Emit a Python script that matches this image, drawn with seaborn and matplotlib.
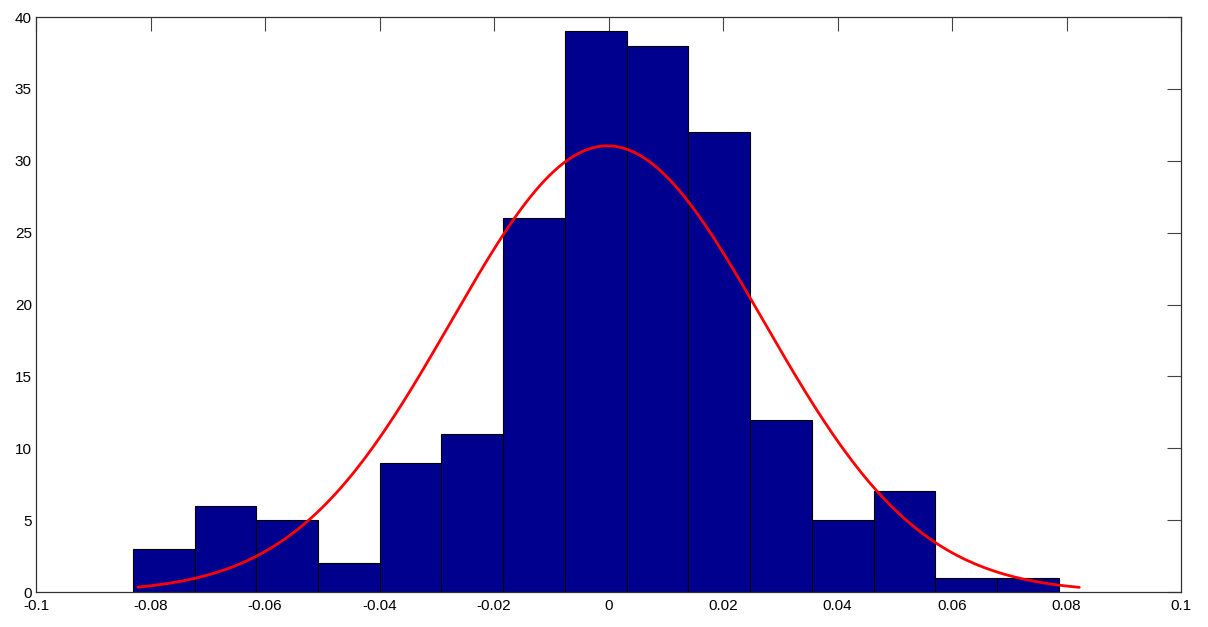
import numpy as np
import pandas as pd
import matplotlib
matplotlib.use("Agg")
import matplotlib.pyplot as plt
import seaborn as sns

# histogram
bin_left = -0.0831
bin_width = 0.010783
counts = [3, 6, 5, 2, 9, 11, 26, 39, 38, 32, 12, 5, 7, 1, 1]

# fitted normal (histfit style)
fit_mu = -0.0002
fit_sigma = 0.0273
fit_range = (-0.0822, 0.0822)

xticks = [-0.1, -0.08, -0.06, -0.04, -0.02, 0, 0.02, 0.04, 0.06, 0.08, 0.1]
xticklabels = ["-0.1", "-0.08", "-0.06", "-0.04", "-0.02", "0", "0.02", "0.04", "0.06", "0.08", "0.1"]
yticks = [0, 5, 10, 15, 20, 25, 30, 35, 40]

sns.set_style("white")
plt.rcParams["font.family"] = ["Liberation Sans", "DejaVu Sans"]

edges = bin_left + bin_width * np.arange(len(counts) + 1)
centers = (edges[:-1] + edges[1:]) / 2
df = pd.DataFrame({"x": centers, "n": counts})

n_total = sum(counts)
xs = np.linspace(fit_range[0], fit_range[1], 200)
ys = n_total * bin_width / (fit_sigma * np.sqrt(2 * np.pi)) * np.exp(-0.5 * ((xs - fit_mu) / fit_sigma) ** 2)
curve = pd.DataFrame({"x": xs, "y": ys})

fig = plt.figure(figsize=(12.08, 6.27), dpi=100)
ax = fig.add_axes([0.0298, 0.0558, 0.948, 0.917])

sns.histplot(data=df, x="x", weights="n", bins=edges.tolist(), ax=ax,
             color=(0, 0, 0.5625), edgecolor="black", linewidth=0.8, alpha=1.0)
sns.lineplot(data=curve, x="x", y="y", ax=ax, color="red", linewidth=2)

ax.set_xlim(-0.1, 0.1)
ax.set_ylim(0, 40)
ax.set_xticks(xticks)
ax.set_xticklabels(xticklabels)
ax.set_yticks(yticks)
ax.set_xlabel("")
ax.set_ylabel("")
ax.tick_params(direction="in", length=10, width=0.8, colors="#444444",
               labelcolor="black", labelsize=11, top=True, right=True)
ax.tick_params(axis="x", pad=5)
ax.tick_params(axis="y", pad=3)
for s in ax.spines.values():
    s.set_color("#333333")
    s.set_linewidth(0.9)

fig.savefig("out.png", dpi=100)
